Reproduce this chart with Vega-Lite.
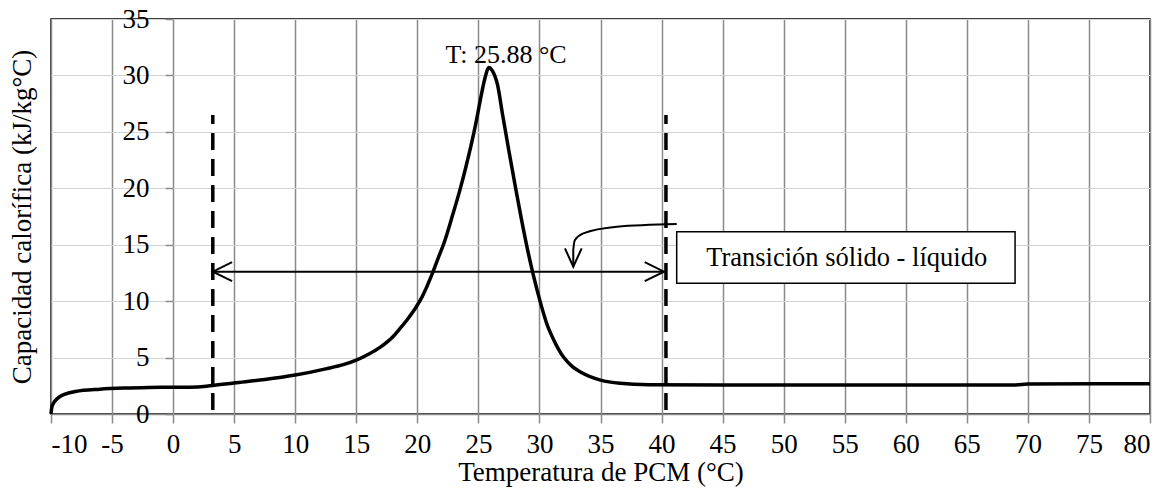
{
  "$schema": "https://vega.github.io/schema/vega-lite/v6.json",
  "width": 1099,
  "height": 395,
  "autosize": "none",
  "padding": {"left": 51, "top": 19, "right": 17, "bottom": 83},
  "background": "white",
  "config": {
    "view": {"stroke": "black", "strokeWidth": 1.5},
    "font": "Liberation Serif",
    "axis": {"labelFont": "Liberation Serif", "titleFont": "Liberation Serif", "labelColor": "black", "titleColor": "black", "titleFontWeight": "normal"}
  },
  "datasets": {
    "curve": [
      {"t": -10, "cp": 0},
      {"t": -9.95, "cp": 0.5},
      {"t": -9.8, "cp": 0.95},
      {"t": -9.5, "cp": 1.35},
      {"t": -9.2, "cp": 1.6},
      {"t": -8.5, "cp": 1.88},
      {"t": -8, "cp": 2.0},
      {"t": -6, "cp": 2.2},
      {"t": -4, "cp": 2.3},
      {"t": -2, "cp": 2.35},
      {"t": 0, "cp": 2.37},
      {"t": 2, "cp": 2.4},
      {"t": 3, "cp": 2.5},
      {"t": 5, "cp": 2.75},
      {"t": 7.5, "cp": 3.05},
      {"t": 10, "cp": 3.45},
      {"t": 12.5, "cp": 4.0},
      {"t": 14, "cp": 4.4},
      {"t": 15, "cp": 4.78},
      {"t": 16, "cp": 5.3},
      {"t": 17, "cp": 5.95},
      {"t": 18, "cp": 6.85},
      {"t": 18.6, "cp": 7.6},
      {"t": 19.2, "cp": 8.4},
      {"t": 19.8, "cp": 9.3},
      {"t": 20.4, "cp": 10.4},
      {"t": 21.1, "cp": 12.1},
      {"t": 21.7, "cp": 13.8},
      {"t": 22.2, "cp": 15.2},
      {"t": 22.8, "cp": 17.3},
      {"t": 23.55, "cp": 20.1},
      {"t": 24.0, "cp": 22.0},
      {"t": 24.4, "cp": 23.8},
      {"t": 24.8, "cp": 25.8},
      {"t": 25.19, "cp": 28.0},
      {"t": 25.5, "cp": 29.6},
      {"t": 25.87, "cp": 30.7},
      {"t": 26.15, "cp": 30.4},
      {"t": 26.56, "cp": 29.2},
      {"t": 27.0, "cp": 26.4},
      {"t": 27.5, "cp": 23.3},
      {"t": 28.0, "cp": 20.3},
      {"t": 28.5, "cp": 17.4},
      {"t": 29.0, "cp": 14.7},
      {"t": 29.5, "cp": 12.3},
      {"t": 30.1, "cp": 9.8},
      {"t": 30.6, "cp": 8.0},
      {"t": 31.2, "cp": 6.5},
      {"t": 32.0, "cp": 5.0},
      {"t": 32.7, "cp": 4.2},
      {"t": 33.4, "cp": 3.7},
      {"t": 35, "cp": 3.0},
      {"t": 36.6, "cp": 2.72},
      {"t": 39, "cp": 2.6},
      {"t": 45, "cp": 2.57},
      {"t": 55, "cp": 2.57},
      {"t": 69, "cp": 2.58},
      {"t": 70, "cp": 2.66},
      {"t": 80, "cp": 2.68}
    ],
    "vlines": [
      {"t": 3.25, "y1": 0.35, "y2": 26.5},
      {"t": 40.36, "y1": 0.35, "y2": 26.5}
    ],
    "harrow": [{"t1": 3.25, "t2": 40.2, "v": 12.61}],
    "heads": [
      {"g": "L", "i": 1, "t": 4.83, "v": 13.45},
      {"g": "L", "i": 2, "t": 3.25, "v": 12.61},
      {"g": "L", "i": 3, "t": 4.83, "v": 11.77},
      {"g": "R", "i": 1, "t": 38.62, "v": 13.45},
      {"g": "R", "i": 2, "t": 40.2, "v": 12.61},
      {"g": "R", "i": 3, "t": 38.62, "v": 11.77},
      {"g": "C", "i": 1, "t": 32.09, "v": 14.68},
      {"g": "C", "i": 2, "t": 32.77, "v": 13.05},
      {"g": "C", "i": 3, "t": 33.46, "v": 14.68}
    ],
    "carrow": [
      {"i": 1, "t": 41.24, "v": 16.84},
      {"i": 2, "t": 36.33, "v": 16.6},
      {"i": 3, "t": 33.59, "v": 16.01},
      {"i": 4, "t": 32.91, "v": 15.42},
      {"i": 5, "t": 32.77, "v": 14.53},
      {"i": 6, "t": 32.77, "v": 13.05}
    ],
    "box": [{"t1": 41.24, "t2": 68.95, "v1": 11.58, "v2": 16.15, "tc": 55.16, "vc": 13.14, "label": "Transición sólido - líquido"}],
    "peak": [{"t": 27.27, "v": 31.1, "label": "T: 25.88 °C"}]
  },
  "resolve": {"axis": {"y": "independent"}},
  "layer": [
    {
      "data": {"name": "curve"},
      "mark": {"type": "line", "color": "black", "strokeWidth": 3.5, "interpolate": "monotone"},
      "encoding": {
        "x": {"field": "t", "type": "quantitative", "scale": {"domain": [-10, 80], "nice": false, "zero": false},
          "axis": {"values": [-10, -5, 0, 5, 10, 15, 20, 25, 30, 35, 40, 45, 50, 55, 60, 65, 70, 75, 80], "labelExpr": "'' + datum.value", "grid": true, "gridColor": "#8a8a8a", "gridWidth": 1.5, "domainColor": "#8a8a8a", "domainWidth": 1.5, "tickColor": "#8a8a8a", "tickWidth": 1.5, "tickSize": 9, "labelPadding": 8, "labelFontSize": 27, "title": "Temperatura de PCM (°C)", "titleFontSize": 27, "titlePadding": 2}},
        "y": {"field": "cp", "type": "quantitative", "scale": {"domain": [0, 35], "nice": false},
          "axis": {"orient": "left", "values": [0, 5, 10, 15, 20, 25, 30, 35], "grid": true, "gridColor": "#d4d4d4", "gridWidth": 1, "labels": false, "ticks": false, "domain": false, "title": "Capacidad calorífica (kJ/kg°C)", "titleFontSize": 27, "titlePadding": 15}}
      }
    },
    {
      "data": {"name": "vlines"},
      "mark": {"type": "rule", "color": "black", "strokeWidth": 3.5, "strokeDash": [17, 9]},
      "encoding": {
        "x": {"field": "t", "type": "quantitative"},
        "y": {"field": "y1", "type": "quantitative",
          "axis": {"orient": "left", "offset": -122.1, "values": [0, 5, 10, 15, 20, 25, 30, 35], "grid": false, "domain": false, "tickColor": "#8a8a8a", "tickWidth": 1.5, "tickSize": 8, "labelPadding": 16, "labelFontSize": 27, "title": null}},
        "y2": {"field": "y2"}
      }
    },
    {
      "data": {"name": "harrow"},
      "mark": {"type": "rule", "color": "black", "strokeWidth": 2},
      "encoding": {
        "x": {"field": "t1", "type": "quantitative"},
        "x2": {"field": "t2"},
        "y": {"field": "v", "type": "quantitative", "axis": null}
      }
    },
    {
      "data": {"name": "carrow"},
      "mark": {"type": "line", "color": "black", "strokeWidth": 2, "interpolate": "monotone"},
      "encoding": {
        "x": {"field": "t", "type": "quantitative"},
        "y": {"field": "v", "type": "quantitative", "axis": null},
        "order": {"field": "i"}
      }
    },
    {
      "data": {"name": "heads"},
      "mark": {"type": "line", "color": "black", "strokeWidth": 2},
      "encoding": {
        "x": {"field": "t", "type": "quantitative"},
        "y": {"field": "v", "type": "quantitative", "axis": null},
        "detail": {"field": "g"},
        "order": {"field": "i"}
      }
    },
    {
      "data": {"name": "box"},
      "mark": {"type": "rect", "fill": "white", "stroke": "black", "strokeWidth": 1.5},
      "encoding": {
        "x": {"field": "t1", "type": "quantitative"},
        "x2": {"field": "t2"},
        "y": {"field": "v1", "type": "quantitative", "axis": null},
        "y2": {"field": "v2"}
      }
    },
    {
      "data": {"name": "box"},
      "mark": {"type": "text", "font": "Liberation Serif", "fontSize": 26.5, "color": "black", "align": "center", "baseline": "alphabetic"},
      "encoding": {
        "x": {"field": "tc", "type": "quantitative"},
        "y": {"field": "vc", "type": "quantitative", "axis": null},
        "text": {"field": "label"}
      }
    },
    {
      "data": {"name": "peak"},
      "mark": {"type": "text", "font": "Liberation Serif", "fontSize": 26, "color": "black", "align": "center", "baseline": "alphabetic"},
      "encoding": {
        "x": {"field": "t", "type": "quantitative"},
        "y": {"field": "v", "type": "quantitative", "axis": null},
        "text": {"field": "label"}
      }
    }
  ]
}
